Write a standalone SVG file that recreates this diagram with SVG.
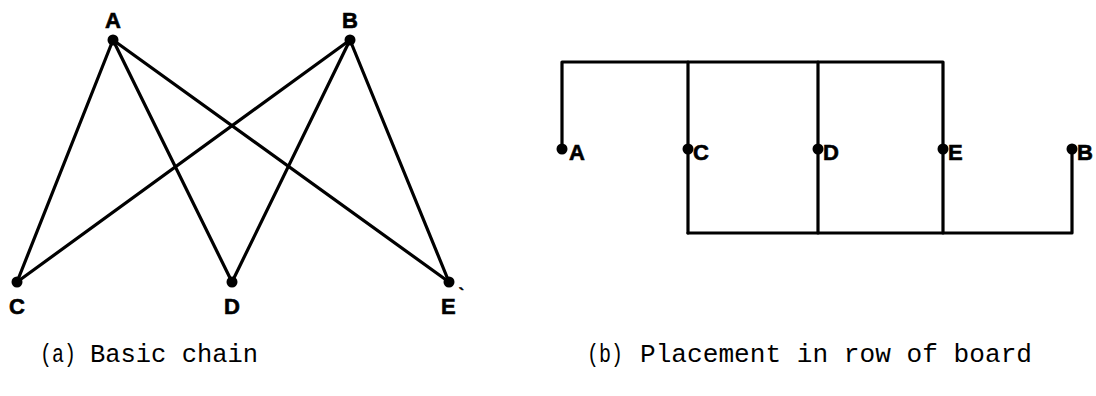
<svg xmlns="http://www.w3.org/2000/svg" width="1096" height="396" viewBox="0 0 1096 396">
<style>
.edge{stroke:#000;stroke-width:3.2;fill:none;stroke-linecap:round;stroke-linejoin:round}
.dot{fill:#000}
.lbl{font-family:"Liberation Sans",Arial,sans-serif;font-weight:bold;font-size:22px;fill:#000;stroke:#000;stroke-width:0.6}
.cap{font-family:"Liberation Mono","Courier New",monospace;font-size:26px;fill:#000}
</style>
<rect width="1096" height="396" fill="#fff"/>
<g id="connectors">
<g id="chain-a">
<line class="edge" x1="113" y1="40" x2="17" y2="282"/>
<line class="edge" x1="113" y1="40" x2="232" y2="282"/>
<line class="edge" x1="113" y1="40" x2="449" y2="282"/>
<line class="edge" x1="350" y1="40" x2="17" y2="282"/>
<line class="edge" x1="350" y1="40" x2="232" y2="282"/>
<line class="edge" x1="350" y1="40" x2="449" y2="282"/>
</g>
<g id="board-b">
<polyline class="edge" points="562,148 562,62 943,62 943,148"/>
<line class="edge" x1="688" y1="62" x2="688" y2="233"/>
<line class="edge" x1="818" y1="62" x2="818" y2="233"/>
<line class="edge" x1="943" y1="148" x2="943" y2="233"/>
<polyline class="edge" points="688,233 1072,233 1072,148"/>
</g>
</g>
<g id="a-A"><circle class="dot" cx="113" cy="40" r="5.5"/><text class="lbl" x="113" y="28" text-anchor="middle">A</text></g>
<g id="a-B"><circle class="dot" cx="350" cy="40" r="5.5"/><text class="lbl" x="350" y="28" text-anchor="middle">B</text></g>
<g id="a-C"><circle class="dot" cx="17" cy="282" r="5.5"/><text class="lbl" x="17" y="314" text-anchor="middle">C</text></g>
<g id="a-D"><circle class="dot" cx="232" cy="282" r="5.5"/><text class="lbl" x="232" y="314" text-anchor="middle">D</text></g>
<g id="a-E"><circle class="dot" cx="449" cy="282" r="5.5"/><text class="lbl" x="441" y="314">E<tspan dx="3" dy="-14" font-size="16">`</tspan></text></g>
<g id="b-A"><circle class="dot" cx="562" cy="149" r="5.5"/><text class="lbl" x="569" y="160">A</text></g>
<g id="b-C"><circle class="dot" cx="688" cy="149" r="5.5"/><text class="lbl" x="693" y="160">C</text></g>
<g id="b-D"><circle class="dot" cx="818" cy="149" r="5.5"/><text class="lbl" x="823" y="160">D</text></g>
<g id="b-E"><circle class="dot" cx="943" cy="149" r="5.5"/><text class="lbl" x="948" y="160">E</text></g>
<g id="b-B"><circle class="dot" cx="1072" cy="149" r="5.5"/><text class="lbl" x="1077" y="160">B</text></g>
<g id="captions">
<text class="cap" x="40" y="362" textLength="36" lengthAdjust="spacingAndGlyphs">(a)</text>
<text class="cap" x="90" y="362" textLength="168" lengthAdjust="spacingAndGlyphs">Basic chain</text>
<text class="cap" x="587" y="362" textLength="36" lengthAdjust="spacingAndGlyphs">(b)</text>
<text class="cap" x="640" y="362" textLength="392" lengthAdjust="spacingAndGlyphs">Placement in row of board</text>
</g>
</svg>
